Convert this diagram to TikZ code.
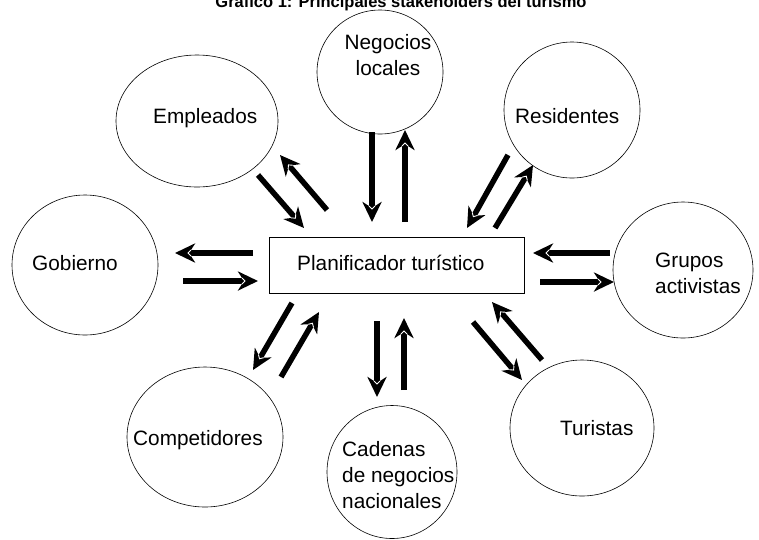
\documentclass[tikz,border=0pt]{standalone}
\usepackage{fontspec}
\setmainfont{Liberation Sans}
\usetikzlibrary{arrows.meta, shapes.geometric, decorations.markings}

\tikzset{
  stake/.style={draw, ellipse, line width=0.6pt, inner sep=0pt},
  lbl/.style={font=\fontsize{20.8}{26}\selectfont, align=left, inner sep=0pt, anchor=base west},
  flow/.style={line width=5.5pt, -{Stealth[length=20pt,width=19pt,inset=6pt]},
    postaction={decorate, decoration={markings, mark=at position 1 with {
      \draw[white, line width=0.9pt, arrows=-] (-16pt,-3pt) -- (-13pt,0pt) -- (-16pt,3pt);}}}}
}

\begin{document}
\begin{tikzpicture}[x=1pt, y=-1pt]
  \useasboundingbox (0,0) rectangle (759,539);

  % title (cut at the top edge)
  \node[font=\fontsize{16.5}{20}\selectfont\bfseries, anchor=base, inner sep=0pt] (title) at (401,7)
    {Gráfico 1: Principales stakeholders del turismo};

  % planner in the middle
  \node[draw, line width=0.6pt, minimum width=255pt, minimum height=56pt, inner sep=0pt] (plan) at (396.5,265) {};
  \node[lbl] (plan-t) at (297,270) {Planificador turístico};

  % stakeholders
  \node[stake, minimum width=126pt, minimum height=124pt] (neg) at (380,72) {};
  \node[stake, minimum width=162pt, minimum height=132pt] (emp) at (197,121) {};
  \node[stake, minimum width=136pt, minimum height=136pt] (res) at (572,110) {};
  \node[stake, minimum width=146pt, minimum height=140pt] (gob) at (85,265) {};
  \node[stake, minimum width=140pt, minimum height=136pt] (gru) at (683,270) {};
  \node[stake, minimum width=156pt, minimum height=140pt] (com) at (205,437) {};
  \node[stake, minimum width=130pt, minimum height=133pt] (cad) at (392,472) {};
  \node[stake, minimum width=144pt, minimum height=136pt] (tur) at (582,428) {};

  \node[lbl, align=center, anchor=base] (neg-t) at (388,75) {Negocios\\locales};
  \node[lbl] (emp-t) at (153,123) {Empleados};
  \node[lbl] (res-t) at (515,123) {Residentes};
  \node[lbl] (gob-t) at (32,270) {Gobierno};
  \node[lbl] (gru-t) at (655,293) {Grupos\\activistas};
  \node[lbl] (com-t) at (133,445) {Competidores};
  \node[lbl] (cad-t) at (342,508) {Cadenas\\de negocios\\nacionales};
  \node[lbl] (tur-t) at (560,435) {Turistas};

  % arrow ends
  \foreach \n/\x/\y in {e1/258/175, e2/304/228, e3/327/210, e4/280/155,
      n1/372/132, n2/372/222, n3/405/222, n4/405/130,
      r1/508/155, r2/467/228, r3/495/228, r4/533/165,
      g1/253/253, g2/175/253, g3/183/281, g4/258/281,
      a1/610/253, a2/533/253, a3/540/282, a4/614/282,
      c1/292/303, c2/253/370, c3/281/377, c4/319/312,
      d1/377/321, d2/377/397, d3/404/390, d4/404/318,
      t1/473/322, t2/522/380, t3/542/360, t4/492/302}
    \coordinate (\n) at (\x,\y);

  \foreach \s/\t in {e1/e2, e3/e4, n1/n2, n3/n4, r1/r2, r3/r4, g1/g2, g3/g4,
      a1/a2, a3/a4, c1/c2, c3/c4, d1/d2, d3/d4, t1/t2, t3/t4}
    \draw[flow] (\s) -- (\t);
\end{tikzpicture}
\end{document}
